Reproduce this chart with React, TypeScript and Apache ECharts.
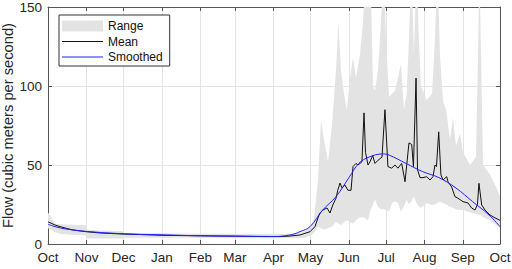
import React, { useEffect, useRef } from "react";
import * as echarts from "echarts";

const DAY = 86400000;
const START = new Date(2018, 9, 1).getTime();
const END = new Date(2019, 9, 1).getTime();
const MONTH_NAMES = ["Jan", "Feb", "Mar", "Apr", "May", "Jun", "Jul", "Aug", "Sep", "Oct", "Nov", "Dec"];
const Y_MIN = 0;
const Y_MAX = 150;
const Y_STEP = 50;

// days since Oct 1
const meanDays = [0, 1.6, 5.7, 9.7, 14.5, 19.4, 25.8, 30.7, 42, 60.6, 74, 92, 123, 151, 171, 187, 195, 203.5, 211.6, 215.6, 218, 219.6, 222, 225.3, 227.7, 230, 232.6, 234, 235.8, 237.4, 239.8, 242.2, 244.7, 246.3, 248.7, 250.3, 253.5, 255.2, 256.4, 258.4, 260, 262.2, 264, 266.5, 269.7, 272.1, 274.5, 277.5, 280.2, 282.6, 285.6, 288.3, 291.5, 293.7, 295.1, 297.2, 298.4, 300.4, 302.8, 305.8, 308.5, 310.9, 312.5, 313.7, 315.5, 317.3, 319, 322, 323, 326, 328.6, 331, 335.1, 339.1, 342.1, 344.8, 346.8, 348, 350.2, 352.9, 356.9, 361, 365];
const meanValues = [14, 13.5, 12, 11, 10, 9, 8.3, 7.8, 7, 6.3, 6, 5.5, 5.2, 5, 4.8, 4.7, 5, 5.7, 7.8, 11, 16.5, 19.6, 21.5, 22.8, 19.6, 24.7, 29, 34, 38.6, 35.4, 37.3, 34, 34, 49, 51, 50, 52, 83, 58, 50, 52, 56, 51, 53, 55, 85, 49, 48, 50, 48, 51, 39.4, 64, 63, 49, 105, 47, 42, 42, 42.6, 40.5, 42.6, 50, 49, 71, 43.7, 40.5, 42.6, 39.4, 36, 30, 29, 26.8, 26, 22.8, 21.5, 25, 38.4, 24.7, 21.5, 18.4, 16.5, 15];

const smoothDays = [0, 5.7, 14.5, 30.7, 60.6, 92, 123, 151, 181.7, 195.4, 203.5, 211.6, 221.8, 232.6, 243, 251, 259.2, 270.3, 275.4, 289.1, 302.6, 315.7, 329.5, 342.9, 356.1, 365];
const smoothValues = [12.5, 11, 9.5, 8, 6.5, 5.8, 5.2, 4.9, 4.7, 5.7, 7.8, 11, 21.5, 30, 42, 51, 55, 57, 56.3, 51, 45.8, 42, 35.4, 26.8, 18.4, 11];

const rangeDays = [0, 2.4, 5.7, 9.7, 17.8, 30.3, 31.1, 42, 60.6, 61.4, 92, 122.7, 151, 181.7, 195.4, 203.5, 207.5, 211.6, 214.8, 218, 220.4, 222.9, 226.1, 229.3, 232.6, 234.6, 236.6, 239, 241.4, 243.9, 246.3, 248.7, 251.9, 254.4, 256.4, 258.4, 260.4, 262.4, 264, 266.5, 268.9, 271, 272.9, 275.4, 277.8, 280.2, 282.6, 285, 287.5, 289.6, 291.5, 293.5, 295.5, 297.5, 299.5, 301.2, 305.8, 310.1, 312.5, 314.5, 316.5, 319, 321.5, 324.6, 327, 329.5, 332.7, 335.1, 340.8, 345.6, 347.3, 348.3, 349.7, 351.3, 356.9, 361.8, 365];
const rangeLow = [10, 9, 7.5, 6.5, 5.8, 5.5, 3.5, 3.5, 3.5, 4, 4, 4, 3.8, 3.8, 3.6, 3.8, 4, 5, 7, 11, 10, 9, 10, 11, 14, 13, 12, 14, 15, 14, 13, 15, 17, 17, 16, 15, 21.5, 25, 28, 23.6, 22, 22, 21.5, 20.4, 26, 27, 26, 20.4, 24, 28, 25, 27, 30, 26, 23.6, 23, 26, 24.7, 25, 26, 26.8, 26, 25, 23.6, 23, 22, 21.5, 21.5, 20, 19, 18.5, 18.5, 18.4, 17, 15, 12, 10];
const rangeHigh = [20, 17, 13, 12.5, 12.2, 12, 9, 8.5, 8, 7, 6.8, 6.5, 6.5, 6.3, 6.5, 7, 8, 11, 16, 40, 78, 66, 52, 75, 110, 140, 110, 95, 85, 105, 118, 105, 120, 140, 175, 150, 175, 100, 97, 110, 140, 175, 130, 93, 95, 97, 105, 114, 85, 95, 130, 175, 120, 175, 130, 100, 91, 95, 130, 175, 120, 90, 85, 66, 80, 62, 70, 58, 50, 55, 120, 175, 120, 50, 44, 36, 30];

const LEGEND_NAMES = ["Range", "Mean", "Smoothed"];

const toTime = (d: number) => START + d * DAY;

export default function App() {
  const ref = useRef<HTMLDivElement>(null);
  useEffect(() => {
    if (!ref.current) return;
    const chart = echarts.init(ref.current, undefined, { renderer: "svg" });
    const axisColor = "#555555";
    const textColor = "#262626";
    const lineIcon = "path://M0,0H41V1H0Z";
    const monthFmt = (v: number) => MONTH_NAMES[new Date(v).getMonth()];
    chart.setOption({
      animation: false,
      textStyle: { fontFamily: "Liberation Sans, Arial, sans-serif" },
      grid: { left: 48, right: 12, top: 7, bottom: 25, containLabel: false, outerBoundsMode: "none" },
      legend: {
        left: 59,
        top: 15,
        orient: "vertical",
        backgroundColor: "#ffffff",
        borderColor: "#333333",
        borderWidth: 1,
        borderRadius: 0,
        padding: [5, 7, 3, 3],
        itemWidth: 41,
        itemHeight: 11,
        itemGap: 3.5,
        textStyle: { fontSize: 12, color: "#111111" },
        data: [
          { name: LEGEND_NAMES[0], icon: "rect" },
          { name: LEGEND_NAMES[1], icon: lineIcon },
          { name: LEGEND_NAMES[2], icon: lineIcon },
        ],
      },
      xAxis: [
        {
          type: "time",
          min: START,
          max: END,
          splitNumber: 12,
          minInterval: 28 * DAY,
          maxInterval: 31 * DAY,
          axisLine: { show: true, onZero: false, lineStyle: { color: axisColor } },
          axisTick: { show: true, inside: true, length: 4, lineStyle: { color: axisColor } },
          axisLabel: {
            formatter: monthFmt,
            fontSize: 13.5,
            color: textColor,
            margin: 6,
            showMinLabel: true,
            showMaxLabel: true,
            hideOverlap: false,
          },
          splitLine: { show: true, lineStyle: { color: "#e4e4e4" } },
        },
        {
          type: "time",
          position: "top",
          min: START,
          max: END,
          splitNumber: 12,
          minInterval: 28 * DAY,
          maxInterval: 31 * DAY,
          axisLine: { show: true, onZero: false, lineStyle: { color: axisColor } },
          axisTick: { show: true, inside: true, length: 4, lineStyle: { color: axisColor } },
          axisLabel: { show: false },
          splitLine: { show: false },
        },
      ],
      yAxis: [
        {
          type: "value",
          min: Y_MIN,
          max: Y_MAX,
          interval: Y_STEP,
          name: "Flow (cubic meters per second)",
          nameLocation: "middle",
          nameRotate: 90,
          nameGap: 33,
          nameMoveOverlap: false,
          nameTextStyle: { fontSize: 14.7, color: textColor },
          axisLine: { show: true, lineStyle: { color: axisColor } },
          axisTick: { show: true, inside: true, length: 4, lineStyle: { color: axisColor } },
          axisLabel: { fontSize: 13.5, color: textColor, margin: 6 },
          splitLine: { show: true, lineStyle: { color: "#e4e4e4" } },
        },
        {
          type: "value",
          position: "right",
          min: Y_MIN,
          max: Y_MAX,
          interval: Y_STEP,
          axisLine: { show: true, lineStyle: { color: axisColor } },
          axisTick: { show: true, inside: true, length: 4, lineStyle: { color: axisColor } },
          axisLabel: { show: false },
          splitLine: { show: false },
        },
      ],
      series: [
        {
          name: "RangeBase",
          type: "line",
          stack: "range",
          symbol: "none",
          silent: true,
          lineStyle: { width: 0, opacity: 0 },
          data: rangeDays.map((d, i) => [toTime(d), rangeLow[i]]),
        },
        {
          name: LEGEND_NAMES[0],
          type: "line",
          stack: "range",
          symbol: "none",
          silent: true,
          color: "#e3e3e3",
          itemStyle: { color: "#e3e3e3" },
          lineStyle: { width: 0, color: "#e3e3e3" },
          areaStyle: { color: "#e3e3e3", opacity: 1 },
          data: rangeDays.map((d, i) => [toTime(d), rangeHigh[i] - rangeLow[i]]),
        },
        {
          name: LEGEND_NAMES[1],
          type: "line",
          symbol: "none",
          color: "#111111",
          itemStyle: { color: "#111111" },
          lineStyle: { width: 1, color: "#111111" },
          data: meanDays.map((d, i) => [toTime(d), meanValues[i]]),
        },
        {
          name: LEGEND_NAMES[2],
          type: "line",
          symbol: "none",
          smooth: 0.4,
          color: "#1f1fff",
          itemStyle: { color: "#1f1fff" },
          lineStyle: { width: 1, color: "#1f1fff" },
          data: smoothDays.map((d, i) => [toTime(d), smoothValues[i]]),
        },
      ],
    });
    return () => chart.dispose();
  }, []);
  return (
    <div
      ref={ref}
      style={{ position: "absolute", left: 0, top: 0, width: 512, height: 269 }}
    />
  );
}
